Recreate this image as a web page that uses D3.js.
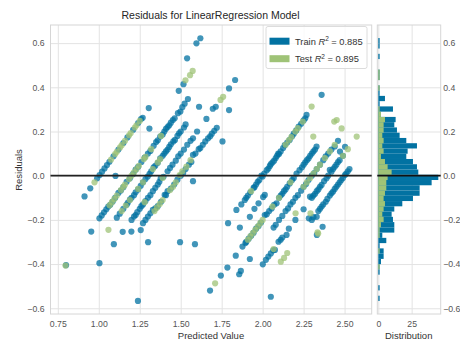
<!DOCTYPE html>
<html>
<head>
<meta charset="utf-8">
<script src="https://cdn.jsdelivr.net/npm/d3@7"></script>
<style>
  body { margin: 0; background: #fff; }
  svg { display: block; font-family: "Liberation Sans", Arial, sans-serif; }
</style>
</head>
<body>
<div id="chart"></div>
<script>
// [predicted value, residual]
var trainPoints = [
  // left group
  [0.913,-0.094],[0.948,-0.057],[0.99,-0.012],[1.005,0.003],[1.02,0.018],[1.035,0.033],[1.05,0.048],[1.065,0.063],[1.09,0.088],[1.12,0.118],[1.15,0.148],[1.175,0.173],[1.21,0.208],[1.24,0.238],[1.258,0.256],[1.268,0.262],[1.305,0.306],[1.539,0.531],[1.596,0.599],[1.62,0.622],
  [1.102,-0.001],[1.309,0.213],[1.488,0.384],[1.517,0.414],
  [1.004,-0.193],[1.018,-0.18],[1.032,-0.166],[1.046,-0.152],[1.058,-0.14],[1.07,-0.132],[1.085,-0.117],[1.1,-0.1],[1.12,-0.078],[1.135,-0.067],[1.15,-0.052],[1.17,-0.028],[1.19,-0.012],[1.21,0.008],[1.225,0.027],[1.24,0.04],[1.26,0.062],[1.28,0.082],[1.3,0.1],[1.315,0.112],[1.335,0.135],[1.35,0.152],[1.36,0.16],[1.375,0.177],[1.39,0.186],[1.4,0.2],[1.41,0.212],[1.42,0.22],[1.43,0.228],[1.44,0.24],[1.452,0.252],[1.463,0.26],[1.483,0.283],[1.498,0.29],[1.51,0.31],[1.524,0.326],[1.544,0.347],
  [0.954,-0.253],[0.8,-0.405],
  [1.11,-0.19],[1.128,-0.172],[1.15,-0.15],[1.17,-0.132],[1.177,-0.123],[1.19,-0.108],[1.2,-0.1],[1.215,-0.088],[1.225,-0.075],[1.24,-0.062],[1.256,-0.046],[1.27,-0.03],[1.285,-0.015],[1.299,-0.004],[1.31,0.008],[1.32,0.02],[1.335,0.038],[1.345,0.045],[1.36,0.058],[1.375,0.078],[1.39,0.09],[1.4,0.1],[1.41,0.11],[1.42,0.118],[1.43,0.13],[1.44,0.142],[1.455,0.155],[1.465,0.162],[1.48,0.18],[1.49,0.192],[1.5,0.2],[1.52,0.218],[1.53,0.232],[1.612,0.312],
  [1.004,-0.396],[1.146,-0.254],[1.092,-0.31],[1.2,-0.2],[1.215,-0.185],[1.225,-0.178],[1.235,-0.165],[1.25,-0.15],[1.26,-0.138],[1.27,-0.13],[1.285,-0.115],[1.3,-0.1],[1.315,-0.088],[1.33,-0.07],[1.345,-0.055],[1.36,-0.04],[1.37,-0.028],[1.378,-0.012],[1.395,-0.005],[1.42,0.02],[1.435,0.035],[1.45,0.05],[1.47,0.068],[1.485,0.088],[1.5,0.1],[1.52,0.118],[1.54,0.14],[1.56,0.158],[1.575,0.169],[1.6,0.2],[1.657,0.257],[1.696,0.303],[1.714,0.312],[1.795,0.395],[1.832,0.433],
  [1.199,-0.253],[1.256,-0.246],[1.27,-0.215],[1.285,-0.2],[1.3,-0.185],[1.315,-0.17],[1.33,-0.155],[1.345,-0.148],[1.36,-0.138],[1.38,-0.118],[1.402,-0.087],[1.41,-0.088],[1.42,-0.07],[1.44,-0.058],[1.46,-0.04],[1.48,-0.018],[1.5,0.0],[1.515,0.012],[1.53,0.03],[1.55,0.05],[1.565,0.062],[1.575,0.094],[1.59,0.1],[1.61,0.12],[1.62,0.125],[1.635,0.14],[1.65,0.155],[1.667,0.169],[1.68,0.178],[1.69,0.19],[1.705,0.203],[1.72,0.217],[1.795,0.297],
  [1.301,-0.301],[1.575,-0.025],[1.755,0.155],[1.496,-0.301],[1.239,-0.567],[1.587,-0.31],
  // right group
  [1.789,-0.215],[1.84,-0.155],[1.87,-0.13],[1.891,-0.11],[1.9,-0.1],[1.91,-0.09],[1.925,-0.075],[1.945,-0.055],[1.95,-0.052],[1.96,-0.04],[1.97,-0.028],[1.98,-0.02],[1.993,0.0],[2.0,-0.004],[2.01,0.01],[2.025,0.025],[2.035,0.032],[2.044,0.044],[2.05,0.052],[2.06,0.06],[2.07,0.068],[2.08,0.08],[2.088,0.09],[2.095,0.1],[2.1,0.098],[2.11,0.11],[2.125,0.125],[2.135,0.138],[2.15,0.15],[2.165,0.162],[2.18,0.178],[2.19,0.19],[2.205,0.205],[2.22,0.222],[2.235,0.235],[2.25,0.25],[2.26,0.26],[2.268,0.275],[2.36,0.366],
  [1.861,-0.235],[1.922,-0.186],[1.95,-0.15],[1.975,-0.125],[2.003,-0.097],[2.013,-0.087],
  [1.679,-0.52],[1.745,-0.452],[1.785,-0.416],[1.836,-0.362],[1.877,-0.321],[1.895,-0.305],[1.9,-0.3],[1.915,-0.285],[1.93,-0.272],[1.945,-0.258],[1.96,-0.24],[1.975,-0.228],[1.99,-0.212],[2.013,-0.178],[2.025,-0.175],[2.04,-0.16],[2.055,-0.148],[2.07,-0.132],[2.085,-0.125],[2.1,-0.1],[2.11,-0.09],[2.12,-0.082],[2.13,-0.07],[2.14,-0.062],[2.15,-0.05],[2.165,-0.035],[2.18,-0.02],[2.19,-0.01],[2.207,0.01],[2.225,0.025],[2.24,0.038],[2.25,0.05],[2.26,0.06],[2.27,0.07],[2.28,0.078],[2.29,0.09],[2.3,0.1],[2.31,0.11],[2.32,0.118],[2.329,0.132],
  [1.857,-0.446],[1.867,-0.431],[1.922,-0.377],[2.067,-0.235],[2.08,-0.222],[2.1,-0.2],[2.12,-0.182],[2.14,-0.16],[2.155,-0.148],[2.17,-0.13],[2.185,-0.118],[2.2,-0.1],[2.215,-0.088],[2.235,-0.068],[2.25,-0.05],[2.265,-0.038],[2.28,-0.02],[2.3,0.0],[2.315,0.012],[2.33,0.03],[2.35,0.05],[2.37,0.07],[2.385,0.088],[2.4,0.1],[2.42,0.118],[2.44,0.132],[2.46,0.158],[2.472,0.109],[2.503,0.131],
  [2.001,-0.401],[2.02,-0.381],[2.035,-0.366],[2.05,-0.352],[2.065,-0.338],[2.075,-0.336],[2.097,-0.299],[2.11,-0.29],[2.12,-0.28],[2.146,-0.268],[2.16,-0.24],[2.2,-0.2],[2.25,-0.152],[2.289,-0.095],[2.3,-0.1],[2.31,-0.09],[2.32,-0.082],[2.33,-0.07],[2.34,-0.062],[2.35,-0.05],[2.36,-0.042],[2.375,-0.025],[2.39,-0.012],[2.4,0.0],[2.41,0.026],[2.42,0.018],[2.43,0.03],[2.44,0.04],[2.45,0.05],[2.46,0.062],[2.47,0.07],[2.49,0.09],
  [2.282,-0.193],[2.3,-0.2],[2.31,-0.188],[2.33,-0.186],[2.34,-0.16],[2.35,-0.15],[2.36,-0.14],[2.37,-0.13],[2.385,-0.118],[2.395,-0.105],[2.41,-0.09],[2.42,-0.08],[2.43,-0.072],[2.44,-0.06],[2.45,-0.05],[2.46,-0.04],[2.47,-0.03],[2.48,-0.02],[2.49,-0.01],[2.502,0.003],[2.51,0.01],[2.52,0.02],[2.53,0.03],
  [2.05,-0.548],[2.331,-0.268],[2.366,-0.231]
];
var testPoints = [
  [0.974,-0.03],[1.075,0.073],[1.1,0.098],[1.11,0.108],[1.13,0.128],[1.14,0.138],[1.16,0.158],[1.185,0.183],[1.195,0.193],[1.22,0.218],[1.23,0.228],[1.25,0.248],
  [1.529,0.432],[1.557,0.455],[1.573,0.474],
  [1.066,-0.134],[1.08,-0.12],[1.095,-0.105],[1.11,-0.09],[1.135,-0.065],[1.15,-0.05],[1.16,-0.04],[1.185,-0.015],[1.2,0.0],[1.215,0.015],[1.23,0.03],[1.245,0.045],[1.275,0.075],[1.285,0.085],[1.32,0.12],[1.38,0.18],
  [0.797,-0.407],[1.059,-0.245],
  [1.14,-0.16],[1.165,-0.135],[1.19,-0.11],[1.24,-0.06],[1.27,-0.03],[1.33,0.03],[1.36,0.06],[1.375,0.075],
  [1.743,0.343],[1.759,0.357],[1.39,-0.01],[1.28,-0.12],
  [1.34,-0.16],[1.355,-0.145],[1.372,-0.128],[1.39,-0.11],[1.435,-0.065],[1.453,-0.05],[1.47,-0.03],[1.494,0.003],[1.51,0.02],[1.535,0.041],[1.56,0.07],
  [1.93,-0.07],[2.14,0.14],[2.16,0.16],[2.175,0.175],[2.2,0.2],[2.215,0.215],[2.245,0.245],[2.299,0.313],
  [1.71,-0.487],[1.91,-0.29],[1.925,-0.275],[1.94,-0.26],[1.955,-0.245],[1.97,-0.23],[1.985,-0.215],[2.0,-0.2],[2.06,-0.14],[2.1,-0.1],[2.17,-0.03],[2.437,0.245],[2.452,0.252],
  [2.25,-0.05],[2.27,-0.03],[2.29,-0.01],[2.31,0.01],[2.33,0.03],[2.35,0.05],[2.38,0.08],[2.41,0.11],[2.44,0.14],[2.482,0.214],[2.201,-0.17],[2.309,0.177],
  [2.067,-0.332],[2.574,0.177],[2.52,0.12],[2.49,0.09],
  [2.111,-0.389],[2.131,-0.372],[2.15,-0.35],[2.292,-0.17],
  [2.335,-0.256],[2.339,-0.262]
];
var trainR2 = "0.885";
var testR2 = "0.895";

var predTicks = [0.75, 1.0, 1.25, 1.5, 1.75, 2.0, 2.25, 2.5];
var residTicks = [-0.6, -0.4, -0.2, 0.0, 0.2, 0.4, 0.6];
var distTicks = [0, 25];

// histogram: 50 bins, counted from the top bin downwards
var histTop = 0.623;
var histBin = 0.0238;
var trainCounts = [1,1,0,1,0,0,1,1,0,1, 1,5,1,11,2,13,12,14,16,21, 29,22,21,26,29,30,45,40,31,31, 26,18,12,10,11,12,12,3,6,1, 4,4,2,1,1,0,0,1,0,1];
var testCounts  = [0,0,0,0,0,0,1,1,0,1, 0,0,0,1,2,5,4,4,3,4, 3,4,2,5,7,10,7,6,6,5, 4,5,4,3,4,2,1,1,0,0, 1,0,0,1,0,0,0,0,0,0];

var trainColor = "#0272a2", testColor = "#9fc377";

var width = 460, height = 347;
var main = { left: 50.5, right: 371.7, top: 25, bottom: 314 };
var side = { left: 377.3, right: 440.7 };

var svg = d3.select("#chart").append("svg")
  .attr("width", width)
  .attr("height", height);

var x = d3.scaleLinear().domain([0.7054, 2.6656]).range([main.left, main.right]);
var y = d3.scaleLinear().domain([-0.626, 0.682]).range([main.bottom, main.top]);
var hx = d3.scaleLinear().domain([-0.75, 46.8]).range([side.left, side.right]);

function styleGrid(g) {
  g.select(".domain").remove();
  g.selectAll("line").attr("stroke", "#e3e3e3").attr("stroke-width", 1);
}
function styleTicks(g) {
  g.select(".domain").remove();
  g.selectAll("text").attr("fill", "#555").style("font-size", "8.7px");
}

// grids
svg.append("g").attr("transform", `translate(0,${main.bottom})`)
  .call(d3.axisBottom(x).tickValues(predTicks).tickSize(-(main.bottom - main.top)).tickFormat(""))
  .call(styleGrid);
svg.append("g").attr("transform", `translate(${main.left},0)`)
  .call(d3.axisLeft(y).tickValues(residTicks).tickSize(-(main.right - main.left)).tickFormat(""))
  .call(styleGrid);
svg.append("g").attr("transform", `translate(0,${main.bottom})`)
  .call(d3.axisBottom(hx).tickValues(distTicks).tickSize(-(main.bottom - main.top)).tickFormat(""))
  .call(styleGrid);
svg.append("g").attr("transform", `translate(${side.left},0)`)
  .call(d3.axisLeft(y).tickValues(residTicks).tickSize(-(side.right - side.left)).tickFormat(""))
  .call(styleGrid);

// frames
svg.append("rect").attr("x", main.left).attr("y", main.top)
  .attr("width", main.right - main.left).attr("height", main.bottom - main.top)
  .attr("fill", "none").attr("stroke", "#d6d6d6");
svg.append("rect").attr("x", side.left).attr("y", main.top)
  .attr("width", side.right - side.left).attr("height", main.bottom - main.top)
  .attr("fill", "none").attr("stroke", "#d6d6d6");

// scatter
svg.append("clipPath").attr("id", "clip").append("rect")
  .attr("x", main.left).attr("y", main.top)
  .attr("width", main.right - main.left).attr("height", main.bottom - main.top);
var pts = svg.append("g").attr("clip-path", "url(#clip)");
pts.selectAll("circle.train").data(trainPoints).join("circle")
  .attr("class", "train")
  .attr("cx", d => x(d[0])).attr("cy", d => y(d[1])).attr("r", 3.1)
  .attr("fill", trainColor).attr("fill-opacity", 0.75);
pts.selectAll("circle.test").data(testPoints).join("circle")
  .attr("class", "test")
  .attr("cx", d => x(d[0])).attr("cy", d => y(d[1])).attr("r", 3.1)
  .attr("fill", testColor).attr("fill-opacity", 0.75);

// histogram (train first, test on top)
function drawHist(counts, color) {
  svg.append("g").selectAll("rect").data(counts).join("rect")
    .attr("x", hx(0))
    .attr("y", (d, k) => y(histTop - k * histBin))
    .attr("width", d => hx(d) - hx(0))
    .attr("height", (d, k) => y(histTop - (k + 1) * histBin) - y(histTop - k * histBin))
    .attr("fill", color);
}
drawHist(trainCounts, trainColor);
drawHist(testCounts, testColor);

// zero lines
svg.append("line").attr("x1", main.left).attr("x2", main.right)
  .attr("y1", y(0)).attr("y2", y(0)).attr("stroke", "#222").attr("stroke-width", 1.8);
svg.append("line").attr("x1", side.left).attr("x2", side.right)
  .attr("y1", y(0)).attr("y2", y(0)).attr("stroke", "#111").attr("stroke-width", 1.8);

// tick labels
svg.append("g").attr("transform", `translate(0,${main.bottom})`)
  .call(d3.axisBottom(x).tickValues(predTicks).tickSize(0).tickPadding(7).tickFormat(d3.format(".2f")))
  .call(styleTicks);
svg.append("g").attr("transform", `translate(${main.left},0)`)
  .call(d3.axisLeft(y).tickValues(residTicks).tickSize(0).tickPadding(6).tickFormat(d3.format(".1f")))
  .call(styleTicks);
svg.append("g").attr("transform", `translate(0,${main.bottom})`)
  .call(d3.axisBottom(hx).tickValues(distTicks).tickSize(0).tickPadding(7).tickFormat(d3.format("d")))
  .call(styleTicks);
svg.append("g").attr("transform", `translate(${side.right},0)`)
  .call(d3.axisRight(y).tickValues(residTicks).tickSize(0).tickPadding(2.5).tickFormat(d3.format(".1f")))
  .call(styleTicks);

// title and axis labels
svg.append("text").attr("x", 210.5).attr("y", 19.3).attr("text-anchor", "middle")
  .attr("fill", "#262626").style("font-size", "10.5px")
  .text("Residuals for LinearRegression Model");
svg.append("text").attr("x", 211).attr("y", 339).attr("text-anchor", "middle")
  .attr("fill", "#333").style("font-size", "9.5px").text("Predicted Value");
svg.append("text").attr("x", 408.7).attr("y", 339).attr("text-anchor", "middle")
  .attr("fill", "#333").style("font-size", "9.5px").text("Distribution");
svg.append("text").attr("transform", "translate(22.4,170) rotate(-90)").attr("text-anchor", "middle")
  .attr("fill", "#333").style("font-size", "9.5px").text("Residuals");

// legend
var legend = svg.append("g");
legend.append("rect").attr("x", 266).attr("y", 26.5).attr("width", 101).attr("height", 42)
  .attr("rx", 2).attr("fill", "#fff").attr("fill-opacity", 0.8).attr("stroke", "#dcdcdc");
var items = [["Train", trainR2, trainColor], ["Test", testR2, testColor]];
items.forEach(function (it, i) {
  var cy = 41.2 + i * 17.5;
  legend.append("rect").attr("x", 269.5).attr("y", cy - 3.5).attr("width", 20).attr("height", 7)
    .attr("fill", it[2]);
  var t = legend.append("text").attr("x", 295).attr("y", cy + 3.3)
    .attr("fill", "#333").style("font-size", "9.3px");
  t.append("tspan").text(it[0] + " ");
  t.append("tspan").style("font-style", "italic").text("R");
  t.append("tspan").attr("dy", -3.5).style("font-size", "6.5px").text("2");
  t.append("tspan").attr("dy", 3.5).text(" = " + it[1]);
});
</script>
</body>
</html>
